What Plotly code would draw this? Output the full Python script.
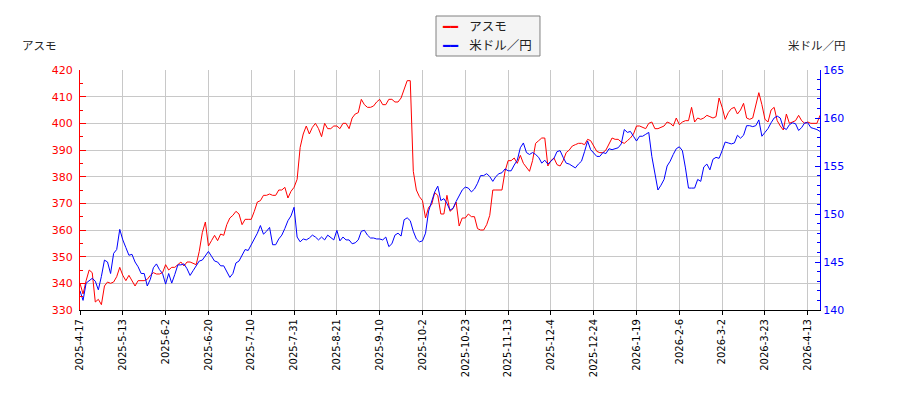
import plotly.graph_objects as go

# daily closes, one value per trading day (2025-4-17 .. 2026-4-17)
asmo = [
    340, 336, 341, 345, 344, 333, 334, 332, 339, 340.5,
    340, 340.5, 342.5, 346, 343, 341, 343, 341, 339, 341,
    341, 341, 341.5, 343, 344, 343.5, 343.5, 344, 347, 345,
    346, 346, 347, 348, 346.5, 348, 348, 347.5, 347, 352,
    359, 363, 354, 356, 358, 356, 358.5, 358, 362, 364.5,
    365.5, 367, 366, 362, 364, 364, 364, 367, 370.5, 371,
    373, 373, 373.5, 373, 373, 375, 375, 376, 372, 374.5,
    376, 379, 391, 396, 399, 396, 398.5, 400, 398, 395,
    400, 398, 398, 399, 399, 398, 400, 400, 398, 402,
    403.5, 404, 409, 407, 406, 406, 406.5, 408, 409, 407,
    407, 409, 409, 408, 408, 409.5, 413, 416, 416, 382,
    375, 372.5, 371, 364.5, 368.5, 369.5, 374, 373, 366, 366,
    373, 367, 368, 370.5, 361.5, 364.5, 364.5, 366, 365, 365,
    360.5, 360, 360, 362, 365.5, 375, 375, 375, 375, 382,
    386, 386, 387, 385, 388, 385, 383.5, 382, 386, 392.5,
    393.5, 394.5, 394.5, 384, 386, 387, 384.5, 384, 386, 389,
    390, 391.5, 392, 392.5, 392.5, 392, 394, 393.5, 391.5, 389.5,
    389, 389, 390, 392.5, 394.5, 394, 394, 393, 392.5, 393.5,
    394.5, 396, 399, 399, 398.5, 398, 400, 400.5, 398, 398,
    398.5, 399, 400.5, 400, 399, 402, 399.5, 400.5, 401, 401,
    406, 400.5, 402, 401.5, 402, 403, 402.5, 402, 402.5, 409.5,
    406, 401.5, 404, 405.5, 406, 403.5, 405, 407.5, 402, 401.5,
    402, 407, 411.5, 407, 401.5, 400.5, 405, 406, 401, 399,
    397.5, 403.5, 400, 400.5, 401, 403, 401, 400, 400.5, 400,
    400, 400, 403,
]

usdjpy = [
    142, 141, 142.8, 143.1, 143.3, 143, 142.1, 143.5, 145.2, 145,
    143.8, 145.9, 146.3, 148.4, 147.3, 146.5, 145.7, 145.8, 145, 144.5,
    143.8, 143.8, 142.5, 143.2, 144.4, 144.8, 144.2, 143.8, 142.7, 143.8,
    142.8, 143.7, 144.7, 144.7, 144.8, 144.3, 143.6, 144.1, 144.6, 145.1,
    145.2, 145.7, 146.1, 145.6, 145.1, 145, 144.6, 144.6, 144, 143.4,
    143.8, 144.9, 145.1, 145.7, 146.3, 146.2, 146.8, 147.5, 148, 148.8,
    147.9, 148.2, 148.6, 146.8, 146.8, 147.4, 147.8, 148.5, 149.3, 149.8,
    150.7, 147.6, 147.1, 147.4, 147.3, 147.5, 147.8, 147.6, 147.3, 147.6,
    147.3, 147.8, 147.5, 147.3, 148.3, 147.2, 147.6, 147.3, 147.3, 146.9,
    147, 147.3, 148.2, 148.3, 147.8, 147.5, 147.5, 147.4, 147.4, 147.3,
    147.6, 146.6, 146.9, 147.8, 148, 147.7, 149.4, 149.6, 149.3, 148.2,
    147.4, 147.1, 147.2, 148, 150.3, 151.3, 152.3, 152.9, 151.4, 151.6,
    151.1, 150.4, 150.6, 151.3, 151.9, 152.5, 152.8, 152.7, 152.3, 152.6,
    153.2, 154, 154, 154.2, 153.9, 153.4, 153.9, 154.2, 154.3, 154.7,
    154.5, 154.5, 155.1, 155.6, 156.9, 157.4, 156.4, 156.2, 156.4, 156.2,
    155.9, 155.3, 155.6, 155.2, 155.5, 155.8, 156.5, 156.6, 155.9, 155.3,
    155.2, 155, 154.8, 155.2, 155.5, 156.5, 157.6, 156.7, 156.3, 156,
    156, 156.4, 156.3, 156.8, 156.7, 156.8, 156.9, 157.3, 158.8, 158.5,
    158.6, 158.1, 157.6, 158.1, 158.1, 158.3, 158.5, 156, 154.4, 152.5,
    153, 153.6, 155, 155.5, 156.2, 156.8, 157, 156.6, 154.8, 152.7,
    152.7, 152.7, 153.6, 153.4, 154.9, 155.2, 154.6, 155.7, 155.9, 155.8,
    156.6, 157.5, 157.4, 157.3, 157.4, 158.2, 157.9, 158.2, 159.2, 159.2,
    159.1, 159.2, 159.8, 158.1, 158.5, 158.9, 159.5, 160, 160.2, 160,
    159, 158.8, 159.3, 159.5, 159.4, 158.7, 159, 159.5, 159.5, 159,
    158.9, 158.8, 158.6,
]

tick_labels = [
    "2025-4-17", "2025-5-13", "2025-6-2", "2025-6-20", "2025-7-10", "2025-7-31",
    "2025-8-21", "2025-9-10", "2025-10-2", "2025-10-23", "2025-11-13", "2025-12-4",
    "2025-12-24", "2026-1-19", "2026-2-6", "2026-3-2", "2026-3-23", "2026-4-13",
]
TICK_STEP = 14  # a label every 14 trading days

RED = "#ff0000"
BLUE = "#0000ff"
jp = "Noto Sans CJK JP"
idx = list(range(len(asmo)))

fig = go.Figure()
fig.add_trace(go.Scatter(x=idx, y=asmo, name="アスモ", mode="lines",
                         line=dict(color=RED, width=1)))
fig.add_trace(go.Scatter(x=idx, y=usdjpy, name="米ドル／円", mode="lines", yaxis="y2",
                         line=dict(color=BLUE, width=1)))

# hand-made legend: grey frame + one text row per series (short thick dash + name)
legend_rows = []
for tr, row_y in zip(fig.data, [1.1875, 1.1042]):
    legend_rows.append(dict(
        text=(f"<span style='font-family:DejaVu Sans;color:{tr.line.color}'>━━</span>"
              f"&nbsp;&nbsp;&nbsp;&nbsp;{tr.name}"),
        xref="paper", yref="paper", x=0.4865, y=row_y,
        xanchor="left", yanchor="middle", align="left", showarrow=False,
        font=dict(family=jp, size=12.5, color="#222"),
    ))

# page body has an 8px margin, so margins are pulled in by 8px
fig.update_layout(
    width=900, height=400,
    margin=dict(l=72, r=88, t=62, b=98),
    plot_bgcolor="white", paper_bgcolor="white",
    font=dict(family="DejaVu Sans", size=11, color="black"),
    showlegend=False,
    xaxis=dict(
        range=[0, len(asmo) - 1],
        tickmode="array",
        tickvals=[i * TICK_STEP for i in range(len(tick_labels))],
        ticktext=tick_labels,
        tickangle=-90,
        ticks="outside", ticklen=4, tickcolor="black",
        showline=True, linecolor="black", linewidth=1,
        showgrid=True, gridcolor="#c8c8c8", gridwidth=1,
        zeroline=False,
        tickfont=dict(size=10, color="black"),
    ),
    yaxis=dict(
        range=[330, 420], dtick=10,
        ticks="inside", ticklen=6, tickcolor=RED,
        minor=dict(dtick=5, ticks="inside", ticklen=3, tickcolor=RED, showgrid=False),
        showline=True, linecolor=RED, linewidth=1,
        showgrid=True, gridcolor="#c8c8c8", gridwidth=1,
        zeroline=False, ticklabelstandoff=4,
        tickfont=dict(size=11, color=RED),
    ),
    yaxis2=dict(
        range=[140, 165], dtick=5, overlaying="y", side="right",
        ticks="inside", ticklen=5, tickcolor=BLUE,
        minor=dict(dtick=1, ticks="inside", ticklen=3, tickcolor=BLUE, showgrid=False),
        showline=True, linecolor=BLUE, linewidth=1,
        showgrid=False, zeroline=False,
        tickfont=dict(size=11, color=BLUE),
    ),
    shapes=[
        dict(type="rect", xref="paper", yref="paper",
             x0=0.4811, x1=0.6216, y0=1.0583, y1=1.225,
             fillcolor="#f4f4f4", line=dict(color="#808080", width=1)),
    ],
    annotations=[
        dict(text="アスモ", xref="paper", yref="paper", x=-0.081, y=1.104,
             xanchor="left", yanchor="middle", showarrow=False,
             font=dict(family=jp, size=11.5, color="#222")),
        dict(text="米ドル／円", xref="paper", yref="paper", x=1.038, y=1.104,
             xanchor="right", yanchor="middle", showarrow=False,
             font=dict(family=jp, size=11.5, color="#222")),
    ] + legend_rows,
)

fig.write_html("out.html")
